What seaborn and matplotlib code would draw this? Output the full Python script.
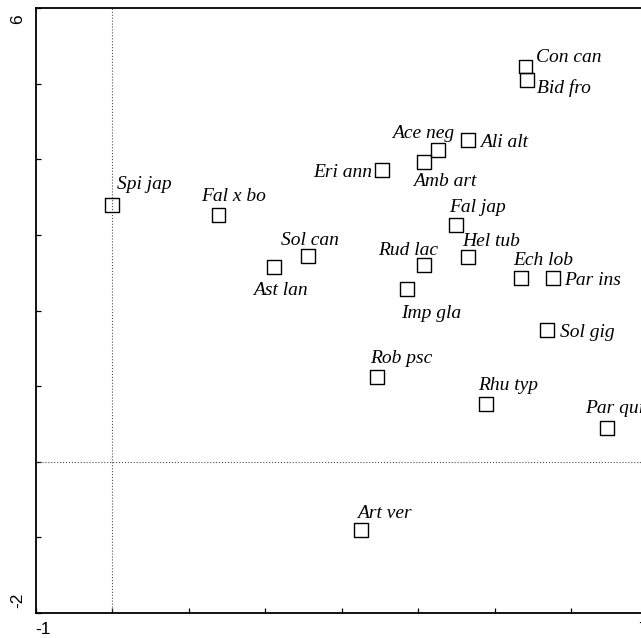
import matplotlib
matplotlib.use("Agg")
import matplotlib.pyplot as plt
import matplotlib.transforms as mtransforms
import seaborn as sns
import pandas as pd

# species codes and ordination scores (axis 1 / axis 2)
species = ["Spi jap", "Fal x bo", "Sol can", "Ast lan", "Eri ann", "Ace neg",
           "Amb art", "Ali alt", "Con can", "Bid fro", "Fal jap", "Hel tub",
           "Rud lac", "Imp gla", "Ech lob", "Par ins", "Sol gig", "Rob psc",
           "Rhu typ", "Par qui", "Art ver"]
axis1 = [0.00, 1.39, 2.56, 2.11, 3.52, 4.26, 4.08, 4.65, 5.40, 5.42, 4.49,
         4.65, 4.08, 3.85, 5.34, 5.76, 5.68, 3.46, 4.88, 6.47, 3.25]
axis2 = [3.40, 3.27, 2.72, 2.58, 3.86, 4.12, 3.97, 4.26, 5.23, 5.05, 3.13,
         2.71, 2.60, 2.29, 2.43, 2.43, 1.74, 1.12, 0.77, 0.45, -0.90]

# label placement relative to each square (pixels, right / up)
label_dx = [4.7, -17, -27.3, -20.6, -9, -46, -11.3, 12, 11, 10, -7.2,
            -5.8, -46.7, -5.8, -7.8, 11.5, 12.8, -6.5, -7.3, -22, -4.3]
label_dy = [16.2, 13.3, 11, -28, -6.7, 12.8, -24, -7.2, 4.8, -12.7, 13.3,
            11, 10, -28.8, 13, -7, -6.7, 13.7, 14, 14.7, 11.7]
label_ha = ["left"] * len(species)
label_ha[species.index("Eri ann")] = "right"

df = pd.DataFrame({"sp": species, "x": axis1, "y": axis2})

sns.set_style("ticks")
plt.rcParams["font.family"] = ["Liberation Sans", "DejaVu Sans"]
plt.rcParams["text.color"] = "black"
plt.rcParams["xtick.color"] = "black"
plt.rcParams["ytick.color"] = "black"
plt.rcParams["axes.edgecolor"] = "black"

fig = plt.figure(figsize=(6.41, 6.38), dpi=100)
ax = fig.add_axes([35.5 / 641, 25 / 638, 612.5 / 641, 604.7 / 638])

ax.axvline(0, ls=":", color="0.3", lw=0.8, zorder=1)
ax.axhline(0, ls=":", color="0.3", lw=0.8, zorder=1)

sns.scatterplot(data=df, x="x", y="y", marker="s", s=100, ax=ax,
                linewidth=1.0, zorder=3, legend=False)
coll = ax.collections[-1]
coll.set_facecolor("none")
coll.set_edgecolor("black")

for i, name in enumerate(species):
    ax.annotate(name, (axis1[i], axis2[i]),
                xytext=(label_dx[i] * 0.72, label_dy[i] * 0.72),
                textcoords="offset points", ha=label_ha[i], va="baseline",
                fontsize=14, style="italic", color="black",
                family=["Liberation Serif", "DejaVu Serif"])

ax.set_xlim(-1, 7)
ax.set_ylim(-2, 6)
ax.set_xticks(range(-1, 8))
ax.set_xticklabels(["-1"] + [""] * 7 + ["7"], fontsize=12.5)
ax.set_yticks(range(-2, 7))
ax.set_yticklabels(["-2"] + [""] * 7 + ["6"], fontsize=12.5, rotation=90,
                   va="center")
ax.tick_params(direction="in", length=3.6, width=0.9, color="black",
               labelcolor="black")
ax.tick_params(axis="x", pad=6.5)
ax.tick_params(axis="y", pad=7.5)
ax.set_xlabel("")
ax.set_ylabel("")

xl = ax.get_xticklabels()
xl[0].set_ha("left")
xl[-1].set_ha("right")
yl = ax.get_yticklabels()
yl[0].set_transform(yl[0].get_transform() +
                    mtransforms.ScaledTranslation(0, 13 / 100, fig.dpi_scale_trans))
yl[-1].set_transform(yl[-1].get_transform() +
                     mtransforms.ScaledTranslation(0, -11 / 100, fig.dpi_scale_trans))

for side in ["left", "bottom", "top", "right"]:
    ax.spines[side].set_linewidth(1.3)
    ax.spines[side].set_color("black")

fig.savefig("out.png", dpi=100)
